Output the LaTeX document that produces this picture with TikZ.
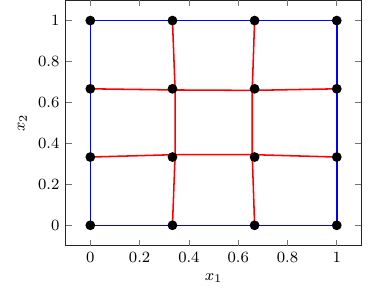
\documentclass[tikz,border=0pt]{standalone}
\usepackage{amsmath}
\usepackage{tikz}
\usetikzlibrary{positioning,calc}
\newcommand{\axtext}[1]{\scalebox{1.4}{\fontsize{8}{10}\selectfont$#1$}}
\tikzset{
  frame/.style={draw=black!85, line width=0.6pt},
  tickmark/.style={draw=black!55, line width=0.45pt},
  edgeout/.style={draw=blue, line width=1.1pt},
  edgein/.style={draw=red, line width=1.1pt},
  vert/.style={circle, fill=black, inner sep=0pt, minimum size=7pt},
  ticklab/.style={inner sep=0pt},
}

\begin{document}
\begin{tikzpicture}[x=176pt, y=146.2pt]
  \useasboundingbox (-0.3665,-0.3112) rectangle (1.1511,1.1005);
  % axis box, ticks and labels
  \draw[frame] (-0.1,-0.1) rectangle (1.1,1.1);
  \foreach \t [count=\k] in {0,0.2,0.4,0.6,0.8,1} {
    \draw[tickmark] (\t,-0.1) -- ++(0,4.25pt) (\t,1.1) -- ++(0,-4.25pt);
    \draw[tickmark] (-0.1,\t) -- ++(4.25pt,0) (1.1,\t) -- ++(-4.25pt,0);
    \node[ticklab] (xt\k) at ($(\t,-0.1)+(0,-8.3pt)$) {\axtext{\t}};
    \node[ticklab, anchor=east] (yt\k) at ($(-0.1,\t)+(-4.3pt,0)$) {\axtext{\t}};
  }
  \node[ticklab] (xlab) at ($(0.5,-0.1)+(0,-23pt)$) {\axtext{x_1}};
  \node[ticklab, rotate=90] (ylab) at ($(-0.1,0.5)+(-30.9pt,0)$) {\axtext{x_2}};

  % mesh: grid points, interior points moved
  \foreach \i in {0,...,3}
    \foreach \j in {0,...,3}
      \coordinate (g\i\j) at (\i/3,\j/3);
  \coordinate (m11) at (0.344,0.345);
  \coordinate (m21) at (0.657,0.345);
  \coordinate (m12) at (0.344,0.661);
  \coordinate (m22) at (0.657,0.659);

  \draw[edgein] (g01) -- (m11) -- (m21) -- (g31);
  \draw[edgein] (g02) -- (m12) -- (m22) -- (g32);
  \draw[edgein] (g10) -- (m11) -- (m12) -- (g13);
  \draw[edgein] (g20) -- (m21) -- (m22) -- (g23);
  \draw[edgeout] (g00) -- (g30) -- (g33) -- (g03) -- cycle;

  \foreach \i in {0,...,3}
    \foreach \j in {0,...,3}
      \node[vert] (v\i\j) at (g\i\j) {};
\end{tikzpicture}
\end{document}
